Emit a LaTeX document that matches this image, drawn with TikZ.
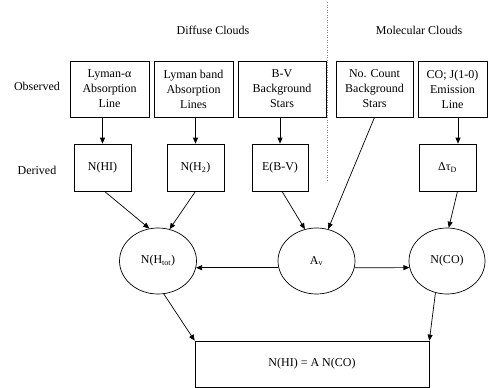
\documentclass[tikz,border=0pt]{standalone}
\usepackage{fontspec}
\setmainfont{Liberation Serif}
\usetikzlibrary{arrows.meta, positioning, shapes.geometric}

\begin{document}
\begin{tikzpicture}[x=1pt, y=-1pt, line width=0.7pt,
      font=\fontsize{12}{15}\selectfont,
      obsbox/.style={draw, align=center, inner sep=0pt, minimum height=56pt},
      derbox/.style={draw, inner sep=0pt, minimum height=47pt, minimum width=57pt},
      qty/.style={draw, ellipse, inner sep=0pt, minimum width=77pt, minimum height=66pt},
      arr/.style={-{Triangle[length=6pt, width=5pt]}}]
   \useasboundingbox (0,0) rectangle (488,388);
   % Headings and row labels
   \node (diffuse) at (213,30) {Diffuse Clouds};
   \node (molecular) at (419,30) {Molecular Clouds};
   \node (observed) at (37,86) {Observed};
   \node (derived) at (37,170) {Derived};
   % Divider between the two kinds of cloud
   \draw[gray, dotted, line width=0.5pt] (327,2) -- (327,182);
   % Observed
   \node[obsbox, minimum width=79pt] (lya) at (109.5,89) {Lyman-α\\Absorption\\Line};
   \node[obsbox, minimum width=79pt] (lyband) at (193.5,89) {Lyman band\\Absorption\\Lines};
   \node[obsbox, minimum width=88pt] (bv) at (282,89) {B-V\\Background\\Stars};
   \node[obsbox, minimum width=77pt] (count) at (374.5,89) {No. Count\\Background\\Stars};
   \node[obsbox, minimum width=69pt] (co) at (452.5,89) {CO; J(1-0)\\Emission\\Line};
   % Derived
   \node[derbox] (nhi) at (102.5,167.5) {N(HI)};
   \node[derbox] (nhtwo) at (195.5,167.5) {N(H\textsubscript{2})};
   \node[derbox, minimum width=56pt] (ebv) at (280,167.5) {E(B-V)};
   \node[derbox] (dtau) at (447.5,167.5) {Δτ\textsubscript{D}};
   \coordinate (dtin) at ([xshift=10.5pt]dtau.north);
   % Column densities and extinction
   \node[qty] (htot) at (158,261) {N(H\textsubscript{tot})};
   \node[qty] (av) at (316.5,261) {A\textsubscript{v}};
   \node[qty, minimum width=76pt] (nco) at (447,261) {N(CO)};
   % Result
   \node[draw, minimum width=234pt, minimum height=46pt] (rel) at (312,364) {N(HI) = A N(CO)};
   % Observed to derived
   \draw[arr] (lya.south -| nhi.north) -- (nhi.north);
   \draw[arr] (lyband.south -| nhtwo.north) -- (nhtwo.north);
   \draw[arr] (bv.south -| ebv.north) -- (ebv.north);
   \draw[arr] (co.south -| dtin) -- (dtin);
   % Derived to column densities
   \draw[arr] ([xshift=2pt]nhi.south) -- (htot.105);
   \draw[arr] (nhtwo.south) -- (htot.70);
   \draw[arr] ([xshift=2pt]ebv.south) -- (av.110);
   \draw[arr] (count.south) -- (av.70);
   \draw[arr] ([xshift=10pt]dtau.south) -- (nco.87);
   \draw[arr] (av.190) -- (htot.-10);
   \draw[arr] (av.-10) -- (nco.190);
   % To the result
   \draw[arr] (htot.-80) -- (rel.north west);
   \draw[arr] (nco.-110) -- (rel.north east);
\end{tikzpicture}
\end{document}
